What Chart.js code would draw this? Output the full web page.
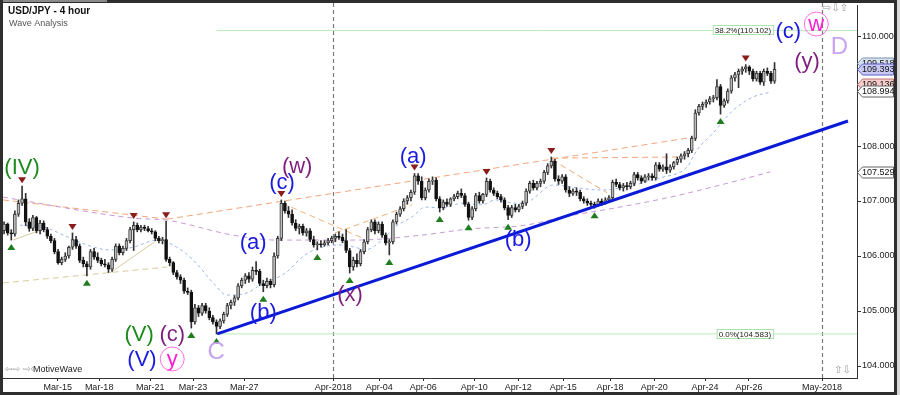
<!DOCTYPE html>
<html>
<head>
<meta charset="utf-8">
<script src="https://cdn.jsdelivr.net/npm/chart.js@4.4.1/dist/chart.umd.min.js"></script>
<style>
  html, body { margin: 0; padding: 0; background: #fff; }
  #wrap { width: 900px; height: 395px; }
</style>
</head>
<body>
<div id="wrap"><canvas id="waveChart" width="900" height="395"></canvas></div>
<script>
// USD/JPY 4h candles (one bar = 4 hours)
const opens = [
  106.46,106.58,106.42,106.40,106.76,106.96,107.04,106.62,106.50,106.70,
  106.46,106.60,106.48,106.36,106.28,106.08,105.88,105.94,106.00,106.16,
  106.30,106.18,105.92,105.86,105.80,106.08,105.98,105.92,105.86,105.84,
  105.76,105.94,106.18,106.06,106.14,106.28,106.48,106.56,106.48,106.52,
  106.50,106.46,106.44,106.32,106.28,106.30,105.94,105.88,105.70,105.62,
  105.56,105.36,105.34,104.80,105.06,104.96,105.10,105.00,104.88,104.80,
  104.72,104.82,104.94,105.10,105.16,105.24,105.46,105.56,105.64,105.58,
  105.74,105.72,105.50,105.46,105.54,105.48,106.00,106.32,106.96,106.82,
  106.76,106.60,106.50,106.54,106.42,106.46,106.30,106.20,106.22,106.20,
  106.24,106.28,106.32,106.36,106.34,106.28,106.10,105.80,105.92,105.86,
  106.08,106.26,106.48,106.62,106.46,106.58,106.38,106.24,106.26,106.62,
  106.76,106.86,107.00,107.06,107.16,107.46,107.36,107.06,107.20,107.36,
  107.38,107.04,106.88,106.98,106.94,107.04,107.08,107.14,107.10,106.94,
  106.70,106.86,107.10,107.00,107.12,107.36,107.20,107.14,107.08,107.02,
  106.88,106.74,106.88,106.84,106.90,106.96,107.18,107.32,107.24,107.32,
  107.36,107.52,107.64,107.72,107.40,107.36,107.44,107.20,107.14,107.18,
  107.16,107.04,107.00,106.96,106.94,106.92,107.00,106.96,107.02,107.06,
  107.34,107.30,107.24,107.28,107.26,107.32,107.48,107.42,107.36,107.44,
  107.46,107.42,107.66,107.58,107.62,107.56,107.62,107.70,107.76,107.82,
  107.86,107.92,108.14,108.60,108.72,108.76,108.80,108.86,108.88,109.08,
  108.74,108.82,109.00,109.24,109.30,109.36,109.40,109.44,109.36,109.22,
  109.32,109.16,109.36,109.32,109.18
];
const highs = [
  106.62,106.60,106.48,106.82,107.02,107.27,107.14,106.68,106.74,106.72,
  106.65,106.64,106.52,106.40,106.32,106.12,105.98,106.06,106.18,106.42,
  106.36,106.22,105.98,105.90,106.12,106.14,106.06,105.96,105.94,105.88,
  105.98,106.22,106.22,106.18,106.32,106.52,106.62,106.60,106.56,106.56,
  106.54,106.50,106.46,106.36,106.34,106.63,105.98,105.90,105.74,105.66,
  105.60,105.42,105.38,105.12,105.10,105.14,105.14,105.06,104.92,104.84,
  104.86,104.98,105.14,105.20,105.28,105.50,105.60,105.68,105.70,105.80,
  105.90,105.76,105.56,105.60,105.58,106.06,106.36,107.02,107.00,106.90,
  106.84,106.66,106.58,106.58,106.50,106.50,106.36,106.26,106.28,106.28,
  106.32,106.36,106.40,106.44,106.40,106.48,106.14,105.98,106.04,106.12,
  106.30,106.52,106.66,106.66,106.62,106.62,106.42,106.30,106.66,106.80,
  106.90,107.04,107.10,107.20,107.50,107.50,107.44,107.24,107.40,107.44,
  107.42,107.08,107.02,107.04,107.06,107.12,107.18,107.22,107.14,106.98,
  106.90,107.14,107.16,107.14,107.42,107.40,107.24,107.18,107.12,107.06,
  106.92,106.92,106.94,106.94,107.00,107.22,107.36,107.38,107.36,107.40,
  107.56,107.68,107.80,107.76,107.46,107.48,107.48,107.26,107.22,107.24,
  107.20,107.08,107.04,107.00,106.98,107.04,107.04,107.06,107.10,107.38,
  107.40,107.34,107.32,107.34,107.36,107.52,107.52,107.46,107.48,107.50,
  107.50,107.70,107.70,107.66,107.86,107.66,107.72,107.80,107.86,107.90,
  107.96,108.18,108.66,108.76,108.80,108.84,108.90,108.92,109.21,109.12,
  108.86,109.04,109.28,109.34,109.40,109.44,109.48,109.46,109.40,109.36,
  109.36,109.40,109.42,109.36,109.518
];
const lows = [
  106.40,106.38,106.29,106.36,106.72,106.92,106.55,106.45,106.46,106.42,
  106.40,106.44,106.32,106.24,106.04,105.85,105.84,105.90,105.96,106.12,
  106.14,105.88,105.80,105.64,105.76,105.94,105.88,105.82,105.80,105.70,
  105.72,105.90,106.02,106.02,106.10,106.24,106.10,106.44,106.44,106.46,
  106.44,106.40,106.28,106.24,106.22,105.90,105.82,105.66,105.58,105.50,
  105.32,105.30,104.69,104.76,104.90,104.92,104.96,104.84,104.76,104.583,
  104.68,104.78,104.90,105.04,105.10,105.20,105.42,105.50,105.52,105.54,
  105.66,105.46,105.35,105.42,105.42,105.44,105.96,106.28,106.78,106.70,
  106.56,106.46,106.40,106.38,106.36,106.26,106.16,106.11,106.16,106.18,
  106.20,106.24,106.26,106.30,106.24,106.06,105.69,105.74,105.80,105.82,
  106.04,106.22,106.44,106.40,106.42,106.34,106.20,106.02,106.22,106.58,
  106.72,106.82,106.94,107.00,107.12,107.30,107.02,107.02,107.16,107.30,
  107.00,106.80,106.84,106.90,106.90,107.00,107.04,107.06,106.90,106.65,
  106.66,106.82,106.96,106.96,107.08,107.16,107.10,107.04,106.98,106.84,
  106.66,106.70,106.80,106.80,106.86,106.92,107.14,107.20,107.20,107.26,
  107.32,107.48,107.60,107.36,107.30,107.32,107.16,107.08,107.10,107.10,
  107.00,106.96,106.92,106.90,106.87,106.90,106.92,106.94,106.98,107.02,
  107.26,107.20,107.18,107.20,107.22,107.28,107.38,107.32,107.34,107.38,
  107.38,107.38,107.54,107.54,107.50,107.52,107.58,107.66,107.70,107.76,
  107.80,107.88,108.10,108.56,108.66,108.70,108.76,108.80,108.84,108.58,
  108.70,108.78,108.96,109.18,109.06,109.30,109.34,109.30,109.18,109.18,
  109.12,109.10,109.28,109.14,109.14
];
const closes = [
  106.58,106.42,106.40,106.76,106.96,107.04,106.62,106.50,106.70,106.46,
  106.60,106.48,106.36,106.28,106.08,105.88,105.94,106.00,106.16,106.30,
  106.18,105.92,105.86,105.80,106.08,105.98,105.92,105.86,105.84,105.76,
  105.94,106.18,106.06,106.14,106.28,106.48,106.56,106.48,106.52,106.50,
  106.46,106.44,106.32,106.28,106.30,105.94,105.88,105.70,105.62,105.56,
  105.36,105.34,104.80,105.06,104.96,105.10,105.00,104.88,104.80,104.72,
  104.82,104.94,105.10,105.16,105.24,105.46,105.56,105.64,105.58,105.74,
  105.72,105.50,105.46,105.54,105.48,106.00,106.32,106.96,106.82,106.76,
  106.60,106.50,106.54,106.42,106.46,106.30,106.20,106.22,106.20,106.24,
  106.28,106.32,106.36,106.34,106.28,106.10,105.80,105.92,105.86,106.08,
  106.26,106.48,106.62,106.46,106.58,106.38,106.24,106.26,106.62,106.76,
  106.86,107.00,107.06,107.16,107.46,107.36,107.06,107.20,107.36,107.38,
  107.04,106.88,106.98,106.94,107.04,107.08,107.14,107.10,106.94,106.70,
  106.86,107.10,107.00,107.12,107.36,107.20,107.14,107.08,107.02,106.88,
  106.74,106.88,106.84,106.90,106.96,107.18,107.32,107.24,107.32,107.36,
  107.52,107.64,107.72,107.40,107.36,107.44,107.20,107.14,107.18,107.16,
  107.04,107.00,106.96,106.94,106.92,107.00,106.96,107.02,107.06,107.34,
  107.30,107.24,107.28,107.26,107.32,107.48,107.42,107.36,107.44,107.46,
  107.42,107.66,107.58,107.62,107.56,107.62,107.70,107.76,107.82,107.86,
  107.92,108.14,108.60,108.72,108.76,108.80,108.86,108.88,109.08,108.74,
  108.82,109.00,109.24,109.30,109.36,109.40,109.44,109.36,109.22,109.32,
  109.16,109.36,109.32,109.18,109.393
];

// time axis: positions are bar numbers
const tickIdx = [14.9, 26.4, 40.6, 52.5, 66.7, 91.4, 104.2, 116.4, 130.6, 142.8, 155.3, 168.3, 180.6, 194.7, 206.9, 227.2];
const tickLabels = ['Mar-15', 'Mar-18', 'Mar-21', 'Mar-23', 'Mar-27', 'Apr-2018', 'Apr-04', 'Apr-06', 'Apr-10', 'Apr-12', 'Apr-15', 'Apr-18', 'Apr-20', 'Apr-24', 'Apr-26', 'May-2018'];
const monthIdx = [91.4, 227.2];
const priceTicks = [104, 105, 106, 107, 108, 109, 110];

// swing markers (bar numbers)
const swingHighs = [5, 19, 36, 45, 77, 114, 134, 152, 206];
const swingLows = [2, 23, 52, 59, 72, 87, 96, 107, 121, 129, 140, 164, 199];

// wave count labels
const waveText  = ['(IV)', '(V)', '(c)', '(V)', 'y', 'C', '(a)', '(b)', '(c)', '(w)', '(x)', '(a)', '(b)', '(c)', 'w', '(y)', 'D'];
const waveIdx   = [5, 37.5, 46.7, 38.3, 46.7, 58.9, 69.2, 72, 77.2, 81.4, 96.1, 113.6, 142.8, 217.8, 225.6, 223, 232];
const wavePrice = [107.6, 104.56, 104.56, 104.11, 104.11, 104.24, 106.24, 104.96, 107.33, 107.62, 105.29, 107.8, 106.29, 110.07, 110.2, 109.53, 109.8];
const waveKind  = ['green', 'green', 'purple', 'blue', 'pink', 'lilac', 'blue', 'blue', 'blue', 'purple', 'purple', 'blue', 'blue', 'blue', 'pink', 'purple', 'lilac'];

// fibonacci levels
const fibText = ['38.2%(110.102)', '0.0%(104.583)'];
const fibPrice = [110.102, 104.583];
const fibStart = 59;

// right axis price tags
const tagPrice = [109.518, 109.393, 109.136, 108.994, 107.529];

// studies: [bar, price]
const fastMA = [[4.4,106.56],[10.8,106.53],[17.5,106.35],[23.1,106.20],[29.4,106.11],[35.8,106.16],[42.5,106.29],[46.9,106.20],
  [52.5,105.93],[58.1,105.51],[61.9,105.29],[67.5,105.33],[71.1,105.47],[78.1,105.69],[83.6,106.02],[88.3,106.16],[93.9,106.20],
  [97.5,106.16],[100.3,106.11],[105,106.29],[108.6,106.53],[113.3,106.71],[117,106.89],[121.7,106.87],[127.2,106.96],[132.8,106.93],
  [136.4,107.02],[142,106.96],[145.3,106.98],[152.5,107.29],[158,107.25],[165.6,107.20],[171.1,107.24],[182.2,107.42],[189.7,107.62],
  [192.5,107.93],[197,108.24],[202.5,108.65],[208,108.89],[212.8,108.98]];
const slowMA = [[-0.3,107.07],[35.8,106.69],[45.3,106.65],[63.6,106.38],[75.8,106.29],[97.5,106.29],[116.1,106.38],[128.9,106.49],
  [144.7,106.56],[155.3,106.71],[171.1,106.89],[185,107.07],[198.9,107.29],[212.8,107.53]];
const channelA = [[-0.3,107.02],[45.3,106.67]];
const channelB = [[45.3,106.67],[191.4,108.16]];
const flatTop = [[152.2,107.78],[186.9,107.80]];
const legDown1 = [[77.2,106.96],[99.4,106.33]];
const legDown2 = [[152.2,107.75],[167.5,107.15]];
const legUp1 = [[91.9,106.42],[113.3,106.93]];
const baseLine = [[-0.3,105.51],[45.3,105.80]];
const tanA = [[2.5,106.29],[10,106.47]];
const tanB = [[29.4,105.69],[42.5,106.29]];
const trendLine = [[59.2,104.583],[234.4,108.455]];

const colors = {
  green: '#1c8a1c', purple: '#7d1f7d', blue: '#1a1ae0', pink: '#ff1fd0', lilac: '#c9a3f2'
};
const tagFill = ['#d8e3f0', '#c9c9f6', '#f6cccc', '#ffffff', '#ffffff'];
const tagEdge = ['#7d92b0', '#5c5cc4', '#c27272', '#666666', '#666666'];

const upFill = '#bdbdbd', upEdge = '#3a3a3a', downFill = '#111111';
const bars = closes.map((_, i) => i);

const lineSet = (pts, color, dash, width, order, smooth) => ({
  type: 'line',
  data: pts.map(p => ({ x: p[0], y: p[1] })),
  borderColor: color,
  borderDash: dash,
  borderWidth: width,
  pointRadius: 0,
  fill: false,
  cubicInterpolationMode: smooth ? 'monotone' : 'default',
  tension: 0,
  order: order
});

function triangle(ctx, x, y, down) {
  ctx.beginPath();
  if (down) {
    ctx.moveTo(x - 4, y - 3); ctx.lineTo(x + 4, y - 3); ctx.lineTo(x, y + 3);
  } else {
    ctx.moveTo(x - 4, y + 3); ctx.lineTo(x + 4, y + 3); ctx.lineTo(x, y - 3);
  }
  ctx.closePath();
  ctx.fill();
}

const overlay = {
  id: 'overlay',
  beforeDraw(chart) {
    const { ctx } = chart;
    ctx.save();
    ctx.fillStyle = '#ffffff';
    ctx.fillRect(0, 0, chart.width, chart.height);
    ctx.restore();
  },
  beforeDatasetsDraw(chart) {
    const { ctx, chartArea: a, scales: { x } } = chart;
    ctx.save();
    ctx.strokeStyle = '#7a7a7a';
    ctx.lineWidth = 1.2;
    ctx.setLineDash([4, 3]);
    monthIdx.forEach(v => {
      const px = Math.round(x.getPixelForValue(v)) + 0.5;
      ctx.beginPath();
      ctx.moveTo(px, 3);
      ctx.lineTo(px, a.bottom);
      ctx.stroke();
    });
    ctx.restore();
  },
  afterDatasetsDraw(chart) {
    const { ctx, scales: { x, y } } = chart;
    ctx.save();

    // swing markers
    ctx.fillStyle = '#8a1c1c';
    swingHighs.forEach(i => triangle(ctx, x.getPixelForValue(i), y.getPixelForValue(highs[i]) - 6, true));
    ctx.fillStyle = '#1f7d1f';
    swingLows.forEach(i => triangle(ctx, x.getPixelForValue(i), y.getPixelForValue(lows[i]) + 7, false));

    // fib tags
    ctx.font = '8px "Liberation Sans", Arial, sans-serif';
    ctx.textBaseline = 'middle';
    ctx.textAlign = 'left';
    fibText.forEach((t, k) => {
      const py = Math.round(y.getPixelForValue(fibPrice[k]));
      const w = ctx.measureText(t).width;
      const rx = x.getPixelForValue(213.6);
      ctx.fillStyle = '#ffffff';
      ctx.fillRect(rx - w - 4, py - 4.5, w + 4, 9);
      ctx.strokeStyle = '#a8e4a8';
      ctx.lineWidth = 1;
      ctx.strokeRect(rx - w - 4 + 0.5, py - 4.5, w + 4, 9);
      ctx.fillStyle = '#222';
      ctx.fillText(t, rx - w - 2, py + 0.5);
    });

    // wave labels
    ctx.textAlign = 'center';
    waveText.forEach((t, k) => {
      const px = x.getPixelForValue(waveIdx[k]);
      const py = y.getPixelForValue(wavePrice[k]);
      const big = (t === 'C' || t === 'D');
      ctx.font = (big ? '24px' : '22px') + ' "Liberation Sans", Arial, sans-serif';
      ctx.fillStyle = colors[waveKind[k]];
      ctx.fillText(t, px, py);
      if (waveKind[k] === 'pink') {
        ctx.strokeStyle = '#ff6ee0';
        ctx.lineWidth = 1;
        ctx.beginPath();
        ctx.arc(px, py - 1, 12, 0, Math.PI * 2);
        ctx.stroke();
      }
    });
    ctx.restore();
  },
  afterDraw(chart) {
    const { ctx, scales: { y } } = chart;
    ctx.save();

    // price tags on the right axis
    ctx.font = '9px "Liberation Sans", Arial, sans-serif';
    ctx.textBaseline = 'middle';
    ctx.textAlign = 'left';
    tagPrice.forEach((v, k) => {
      const py = Math.round(y.getPixelForValue(v)) + 0.5;
      ctx.beginPath();
      ctx.moveTo(857.5, py);
      ctx.lineTo(862.5, py - 5.5);
      ctx.lineTo(893.5, py - 5.5);
      ctx.lineTo(893.5, py + 5.5);
      ctx.lineTo(862.5, py + 5.5);
      ctx.closePath();
      ctx.fillStyle = tagFill[k];
      ctx.fill();
      ctx.strokeStyle = tagEdge[k];
      ctx.lineWidth = 1;
      ctx.stroke();
      ctx.fillStyle = '#111';
      ctx.fillText(v.toFixed(3), 862, py + 0.5);
    });

    // titles
    ctx.fillStyle = '#111';
    ctx.font = 'bold 10px "Liberation Sans", Arial, sans-serif';
    ctx.fillText('USD/JPY - 4 hour', 8, 11);
    ctx.fillStyle = '#555';
    ctx.font = '9px "Liberation Sans", Arial, sans-serif';
    ctx.fillText('Wave Analysis', 9, 24);
    ctx.fillStyle = '#222';
    ctx.fillText('MotiveWave', 33, 370);
    ctx.fillStyle = '#9a9a9a';
    ctx.font = '9px "DejaVu Sans", sans-serif';
    ctx.fillText('\u21E6\u21E8 \u21E8\u21E6', 5, 370);
    ctx.font = '10px "DejaVu Sans", sans-serif';
    ctx.fillText('\u21E8\u21E9\u21E7', 823, 8);
    ctx.fillText('\u21E7\u21E9', 834, 370);

    // window frame
    ctx.fillStyle = '#2e2e2e';
    ctx.fillRect(0, 0, 900, 3);
    ctx.fillRect(0, 0, 3, 395);
    ctx.fillRect(0, 392, 900, 3);
    ctx.fillRect(894, 0, 3, 395);
    ctx.fillStyle = '#8a8a8a';
    ctx.fillRect(3, 0, 104, 2);
    ctx.fillStyle = '#d8d8d8';
    ctx.fillRect(897, 0, 3, 395);
    ctx.restore();
  }
};

new Chart(document.getElementById('waveChart'), {
  type: 'bar',
  data: {
    datasets: [
      lineSet(fastMA, '#9db6ec', [3, 3], 1, 30, true),
      lineSet(slowMA, '#c99ad6', [5, 4], 1, 30, true),
      lineSet(channelA, '#f2a67a', [6, 4], 1, 30),
      lineSet(channelB, '#f2a67a', [6, 4], 1, 30),
      lineSet(flatTop, '#f2a67a', [6, 4], 1, 30),
      lineSet(legDown1, '#f2b27a', [6, 4], 1, 30),
      lineSet(legDown2, '#f2a67a', [6, 4], 1, 30),
      lineSet(legUp1, '#f2b27a', [6, 4], 1, 30),
      lineSet(baseLine, '#d8cc9c', [6, 4], 1, 30),
      lineSet(tanA, '#d8cc9c', [], 1, 30),
      lineSet(tanB, '#d8cc9c', [], 1, 30),
      lineSet(fibPrice.slice(0, 1).map(p => [fibStart, p]).concat([[236.9, fibPrice[0]]]), '#b8ecb8', [], 1, 31),
      lineSet(fibPrice.slice(1, 2).map(p => [fibStart, p]).concat([[236.9, fibPrice[1]]]), '#b8ecb8', [], 1, 31),
      {
        type: 'bar',
        data: bars.map(i => ({ x: i, y: [lows[i], highs[i]] })),
        backgroundColor: '#333333',
        barThickness: 1,
        grouped: false,
        order: 10
      },
      {
        type: 'bar',
        data: bars.map(i => ({ x: i, y: [opens[i], closes[i]] })),
        backgroundColor: bars.map(i => closes[i] >= opens[i] ? upFill : downFill),
        borderColor: bars.map(i => closes[i] >= opens[i] ? upEdge : downFill),
        borderWidth: 1,
        borderSkipped: false,
        barThickness: 3,
        grouped: false,
        order: 9
      },
      lineSet(trendLine, '#0b1ad6', [], 3, 1)
    ]
  },
  options: {
    responsive: false,
    animation: false,
    layout: { padding: { left: 3, top: 5, right: 0, bottom: 0 } },
    plugins: { legend: { display: false }, tooltip: { enabled: false } },
    scales: {
      x: {
        type: 'linear',
        min: -0.3,
        max: 236.9,
        offset: false,
        afterBuildTicks: s => { s.ticks = tickIdx.map(v => ({ value: v })); },
        afterFit: s => { s.height = 17; s.paddingLeft = 0; s.paddingRight = 0; },
        ticks: {
          autoSkip: false,
          maxRotation: 0,
          padding: 1,
          color: '#222',
          font: { size: 9, family: '"Liberation Sans", Arial, sans-serif' },
          callback: (v, k) => tickLabels[k]
        },
        grid: { drawOnChartArea: false, offset: false, tickLength: 3, color: '#333' },
        border: { color: '#333' }
      },
      y: {
        type: 'linear',
        position: 'right',
        min: 103.782,
        max: 110.564,
        afterBuildTicks: s => { s.ticks = priceTicks.map(v => ({ value: v })); },
        afterFit: s => { s.width = 43; s.paddingTop = 0; s.paddingBottom = 0; },
        ticks: {
          padding: 1,
          color: '#222',
          font: { size: 9, family: '"Liberation Sans", Arial, sans-serif' },
          callback: v => v.toFixed(3)
        },
        grid: { drawOnChartArea: false, tickLength: 4, color: '#333' },
        border: { color: '#333' }
      }
    }
  },
  plugins: [overlay]
});
</script>
</body>
</html>
